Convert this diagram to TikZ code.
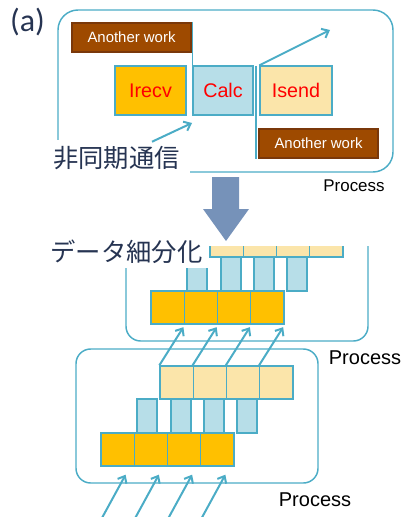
\documentclass[tikz,border=0pt]{standalone}
\usepackage{fontspec}
\setmainfont{Liberation Sans}
\newfontfamily\cjk{Noto Sans CJK JP}
\newfontfamily\carl{Carlito}
\usetikzlibrary{arrows.meta,shadows,calc}
\definecolor{teal1}{RGB}{75,172,198}
\definecolor{orng}{RGB}{255,192,0}
\definecolor{lblue}{RGB}{183,222,232}
\definecolor{lyel}{RGB}{251,229,170}
\definecolor{brn}{RGB}{158,74,0}
\definecolor{brnd}{RGB}{122,56,10}
\definecolor{navy}{RGB}{38,52,82}
\definecolor{bigarr}{RGB}{118,146,185}
\tikzset{
  shd/.style={drop shadow={shadow xshift=1pt,shadow yshift=-1pt,opacity=0.22}},
  cellbox/.style={draw=teal1,line width=1pt,inner sep=0pt,shd},
  sq/.style={cellbox,minimum width=24.94pt,minimum height=24.75pt},
  colbox/.style={cellbox,fill=lblue,minimum width=15pt,minimum height=25.5pt},
  aw/.style={fill=brn,draw=brnd,line width=1pt,text=white,inner sep=0pt,
    font=\fontsize{11.2}{12}\selectfont,minimum width=89.25pt,minimum height=21.75pt,shd},
  big/.style={cellbox,text=red,font=\fontsize{14.8}{15}\selectfont,minimum height=36.75pt},
  pbox/.style={draw=teal1,line width=1.1pt,rounded corners=11pt},
  arr/.style={draw=teal1,line width=1.5pt,-{Straight Barb[length=4.5pt,width=7.5pt]}},
  vline/.style={draw=teal1,line width=1.2pt},
  jp/.style={fill=white,inner sep=0pt,text=navy,font=\cjk\fontsize{19}{19}\selectfont},
  panel/.pic={
    \draw[pbox] (76,349) rectangle (318,483);
    \foreach \x [count=\i] in {137,171,204,237}
      \node[colbox] (-c\i) at (\x+10,416) {};
    \foreach \x [count=\i] in {160,193.25,226.5,259.75}
      \node[sq,fill=lyel] (-y\i) at (\x+16.625,382.5) {};
    \foreach \x [count=\i] in {101,134.25,167.5,200.75}
      \node[sq,fill=orng] (-o\i) at (\x+16.625,449.5) {};
    \node[font=\fontsize{15}{16}\selectfont] (-p) at (315,500) {Process};
  }
}
\begin{document}
\begin{tikzpicture}[x=0.75pt,y=-0.75pt]
\useasboundingbox (0,0) rectangle (402,517);

% (a)
\node[text=navy,font=\carl\fontsize{24}{24}\selectfont] (lbl) at (27.5,22) {(a)};

% top panel
\node[draw=teal1,line width=1.1pt,rounded corners=15pt,minimum width=251.25pt,
      minimum height=121.5pt,inner sep=0pt] (top) at (225.5,91) {};
\node[font=\fontsize{12.7}{13}\selectfont] (ptop) at (354,186) {Process};

\node[aw] (aw1) at (131.5,37.5) {Another work};
\node[big,fill=orng,minimum width=53.25pt] (irecv) at (150.5,90.5) {Irecv};
\node[big,fill=lblue,minimum width=45pt] (calc) at (223,90.5) {Calc};
\node[big,fill=lyel,minimum width=54pt] (isend) at (296,90.5) {Isend};
\node[aw] (aw2) at (318.5,143.5) {Another work};

\draw[vline] (calc.south west) -- (calc.west |- aw1.north);
\coordinate (gap) at (256,66);
\draw[vline] (gap) -- (gap |- aw2.south);

\coordinate (up) at (330,30);
\draw[arr] (isend.north west) -- (up);

\node[jp,minimum width=110pt,minimum height=27pt] (async) at (116.5,158) {非同期通信};
\coordinate (calcin) at (192,123);
\draw[arr] ($(async.north)+(35.5,2)$) -- (calcin);

% big arrow
\fill[bigarr] (212,177) -- (239,177) -- (239,209) -- (249,209) -- (226,241)
  -- (203,209) -- (212,209) -- cycle;

% bottom panel
\pic (b) at (0,0) {panel};

% middle panel (cropped)
\begin{scope}
  \clip (0,246) rectangle (402,517);
  \pic (m) at (50,-142) {panel};
\end{scope}

\node[jp,minimum width=122pt,minimum height=24pt] (split) at (126.5,252) {データ細分化};

% arrows between panels
\foreach \i in {1,...,4}
  \draw[arr] (b-y\i.north west) -- ($(m-o\i.south east)+(-1.5,2.5)$);

% incoming arrows
\foreach \i in {1,...,4}{
  \coordinate (tip\i) at ($(b-o\i.south)+(8,8)$);
  \coordinate (tail\i) at ($(tip\i)+(-23.5,43)$);
  \draw[arr] (tail\i) -- (tip\i);
}
\end{tikzpicture}
\end{document}
